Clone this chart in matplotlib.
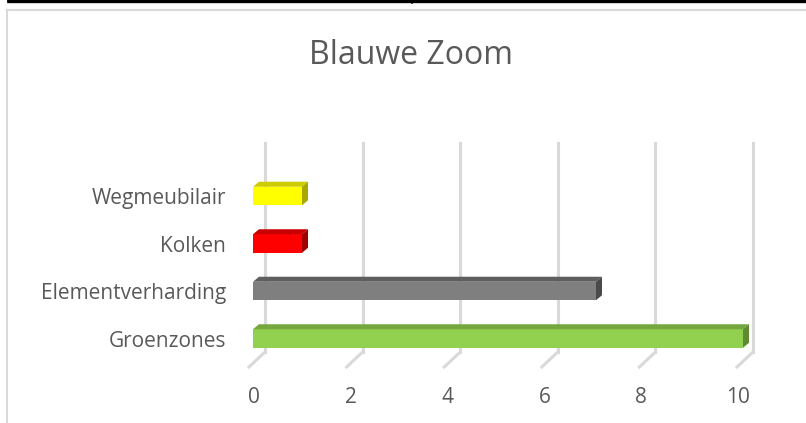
import matplotlib
matplotlib.use("Agg")
import matplotlib.pyplot as plt
from matplotlib.patches import Polygon
from matplotlib.lines import Line2D

plt.rcParams['font.family'] = ['Open Sans', 'DejaVu Sans']

title = "Blauwe Zoom"
categories = ["Groenzones", "Elementverharding", "Kolken", "Wegmeubilair"]
values = [10, 7, 1, 1]
front_colors = ["#92D050", "#7F7F7F", "#FF0000", "#FFFF00"]
top_colors = ["#74A83E", "#5E5E5E", "#C80000", "#CCCC00"]
side_colors = ["#5F8A32", "#4A4A4A", "#A00000", "#A8A800"]
xticks = [0, 2, 4, 6, 8, 10]
xticklabels = ["0", "2", "4", "6", "8", "10"]

W, H = 806, 423
fig = plt.figure(figsize=(W / 100, H / 100), dpi=100)
fig.patch.set_facecolor("white")

# background axes in pixel coordinates (for frame decorations)
bg = fig.add_axes([0, 0, 1, 1])
bg.set_xlim(0, W)
bg.set_ylim(H, 0)
bg.axis("off")
# table lines at top
bg.plot([7, W], [1.2, 1.2], color="black", lw=2.4, solid_capstyle="butt")
bg.plot([7.5, 7.5], [0, 2.5], color="black", lw=1.2)
bg.plot([411.5, 411.5], [0, 3.5], color="black", lw=1.2)
# chart frame
bg.plot([6.5, W], [10.5, 10.5], color="#D9D9D9", lw=1.5)
bg.plot([6.5, 6.5], [10.5, H], color="#D9D9D9", lw=1.5)

# main axes
x0px, x1px = 253, 743
yc0, step = 338.5, 47.5
ybot = yc0 + step / 2
ytop = ybot - 4 * step
ax = fig.add_axes([x0px / W, (H - ybot) / H, (x1px - x0px) / W, (ybot - ytop) / H])
ax.set_xlim(0, 10)
ax.set_ylim(-0.5, 3.5)
ax.patch.set_alpha(0)
for s in ax.spines.values():
    s.set_visible(False)
ax.set_xticks([])
ypos = list(range(len(categories)))
ax.set_yticks(ypos)
ax.set_yticklabels(categories, fontsize=15, color="#595959")
ax.tick_params(axis="y", length=0, pad=19.5)

fig.canvas.draw()
T = ax.transData

def disp(x, y):
    return T.transform((x, y))

# back wall gridlines + floor diagonals (display/pixel coordinates, y up)
grid_top = H - 143
grid_bot = H - 352
for v, lab in zip(xticks, xticklabels):
    fx = disp(v, 0)[0]
    bx = fx + 12 - 0.2 * v
    fig.add_artist(Line2D([bx, bx], [grid_bot, grid_top], transform=None,
                          color="#D9D9D9", lw=2.2, zorder=0))
    fig.add_artist(Line2D([bx, bx - 16], [grid_bot, grid_bot - 15], transform=None,
                          color="#D9D9D9", lw=2.2, zorder=0))
    fig.text((bx - 11 - 0.4 * v) / W, (H - 397) / H, lab, ha="center", va="center",
             fontsize=15, color="#595959")

# bars (front faces) plus 3D top and side faces
bh = 0.39
ax.barh(ypos, values, height=bh, color=front_colors, zorder=3)
dx, dy = 6, 5
for i, v in enumerate(values):
    xa, yt = disp(0, i + bh / 2)
    xb, yb = disp(v, i - bh / 2)
    top = Polygon([[xa, yt], [xb, yt], [xb + dx, yt + dy], [xa + dx, yt + dy]],
                  closed=True, transform=None, facecolor=top_colors[i],
                  edgecolor="none", zorder=4)
    side = Polygon([[xb, yb], [xb, yt], [xb + dx, yt + dy], [xb + dx, yb + dy]],
                   closed=True, transform=None, facecolor=side_colors[i],
                   edgecolor="none", zorder=4)
    fig.add_artist(top)
    fig.add_artist(side)

fig.text(411 / W, (H - 56) / H, title, ha="center", va="center",
         fontsize=23, color="#595959")

fig.savefig("out.png", dpi=100)
